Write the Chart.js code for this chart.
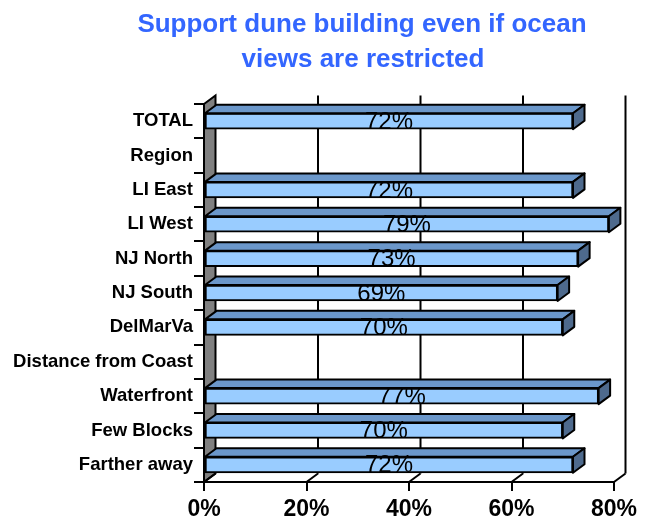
<!DOCTYPE html>
<html>
<head>
<meta charset="utf-8">
<script src="https://cdn.jsdelivr.net/npm/chart.js@4/dist/chart.umd.min.js"></script>
<style>
  html, body { margin: 0; padding: 0; background: #ffffff; }
  #wrap { width: 654px; height: 522px; position: relative; }
</style>
</head>
<body>
<div id="wrap"><canvas id="c" width="654" height="522"></canvas></div>
<script>
// Survey categories (blank rows are group headings)
const categories = ['TOTAL', 'Region', 'LI East', 'LI West', 'NJ North', 'NJ South', 'DelMarVa',
  'Distance from Coast', 'Waterfront', 'Few Blocks', 'Farther away'];
// Share supporting dune building (%)
const support = [72, null, 72, 79, 73, 69, 70, null, 77, 70, 72];
// Axis range and tick step (%)
const axisMin = 0;
const axisMax = 80;
const axisStep = 20;
const titleLines = ['Support dune building even if ocean', 'views are restricted'];

const FONT = "'Liberation Sans', Arial, sans-serif";
// depth offset of the 3-D look
const DX = 11.5, DY = -8.5;
const LW = 2;

const depthPlugin = {
  id: 'depth',
  beforeDatasetsDraw(chart) {
    const { ctx, chartArea: a, scales: { x } } = chart;
    ctx.save();
    ctx.lineWidth = LW;
    ctx.strokeStyle = '#000';
    // side wall
    ctx.fillStyle = '#808080';
    ctx.beginPath();
    ctx.moveTo(a.left, a.top);
    ctx.lineTo(a.left + DX, a.top + DY);
    ctx.lineTo(a.left + DX, a.bottom + DY);
    ctx.lineTo(a.left, a.bottom);
    ctx.closePath();
    ctx.fill();
    ctx.stroke();
    // back-wall gridlines and floor ticks
    x.ticks.forEach(t => {
      const px = x.getPixelForValue(t.value);
      if (t.value > axisMin) {
        ctx.beginPath();
        ctx.moveTo(px + DX, a.top + DY);
        ctx.lineTo(px + DX, a.bottom + DY);
        ctx.stroke();
      }
      ctx.beginPath();
      ctx.moveTo(px, a.bottom);
      ctx.lineTo(px + DX, a.bottom + DY);
      ctx.stroke();
    });
    ctx.restore();
  },
  afterDatasetsDraw(chart) {
    const { ctx } = chart;
    const meta = chart.getDatasetMeta(0);
    ctx.save();
    ctx.lineWidth = LW;
    ctx.strokeStyle = '#000';
    ctx.lineJoin = 'round';
    meta.data.forEach((el, i) => {
      if (support[i] == null) return;
      const p = el.getProps(['x', 'y', 'base', 'height'], true);
      const top = p.y - p.height / 2, bot = p.y + p.height / 2;
      // top face
      ctx.fillStyle = '#6B97CA';
      ctx.beginPath();
      ctx.moveTo(p.base, top);
      ctx.lineTo(p.base + DX, top + DY);
      ctx.lineTo(p.x + DX, top + DY);
      ctx.lineTo(p.x, top);
      ctx.closePath();
      ctx.fill();
      ctx.stroke();
      // end face
      ctx.fillStyle = '#4E6A8D';
      ctx.beginPath();
      ctx.moveTo(p.x, top);
      ctx.lineTo(p.x + DX, top + DY);
      ctx.lineTo(p.x + DX, bot + DY);
      ctx.lineTo(p.x, bot);
      ctx.closePath();
      ctx.fill();
      ctx.stroke();
    });
    // value labels
    ctx.fillStyle = '#000';
    ctx.font = '24px ' + FONT;
    ctx.textAlign = 'center';
    ctx.textBaseline = 'middle';
    meta.data.forEach((el, i) => {
      if (support[i] == null) return;
      const p = el.getProps(['x', 'y', 'base'], true);
      ctx.fillText(support[i] + '%', (p.x + p.base) / 2, p.y + 1);
    });
    ctx.restore();
  },
  afterDraw(chart) {
    const { ctx } = chart;
    ctx.save();
    ctx.fillStyle = '#3366FF';
    ctx.font = 'bold 26px ' + FONT;
    ctx.textAlign = 'center';
    ctx.textBaseline = 'middle';
    ctx.fillText(titleLines[0], 362, 25);
    ctx.fillText(titleLines[1], 363, 60);
    ctx.restore();
  }
};

new Chart(document.getElementById('c'), {
  type: 'bar',
  data: {
    labels: categories,
    datasets: [{
      data: support,
      backgroundColor: '#99CCFF',
      borderColor: '#000',
      borderWidth: LW,
      borderSkipped: false,
      barThickness: 16
    }]
  },
  options: {
    indexAxis: 'y',
    responsive: false,
    animation: false,
    devicePixelRatio: 1,
    layout: { padding: { top: 104, right: 40, left: 0, bottom: 0 } },
    plugins: {
      legend: { display: false },
      title: { display: false },
      tooltip: { enabled: false }
    },
    scales: {
      x: {
        min: axisMin,
        max: axisMax,
        afterFit(scale) { scale.height = 40; },
        ticks: {
          stepSize: axisStep,
          color: '#000',
          padding: 5,
          font: { family: FONT, size: 23, weight: 'bold' },
          callback: v => v + '%'
        },
        grid: {
          drawOnChartArea: false,
          drawTicks: true,
          tickLength: 9,
          color: '#000',
          lineWidth: LW
        },
        border: { display: true, color: '#000', width: LW }
      },
      y: {
        afterFit(scale) { scale.width = 204; },
        ticks: {
          color: '#000',
          padding: 1,
          font: { family: FONT, size: 18.5, weight: 'bold' }
        },
        grid: {
          drawOnChartArea: false,
          drawTicks: true,
          tickLength: 10,
          color: '#000',
          lineWidth: LW
        },
        border: { display: true, color: '#000', width: LW }
      }
    }
  },
  plugins: [depthPlugin]
});
</script>
</body>
</html>
